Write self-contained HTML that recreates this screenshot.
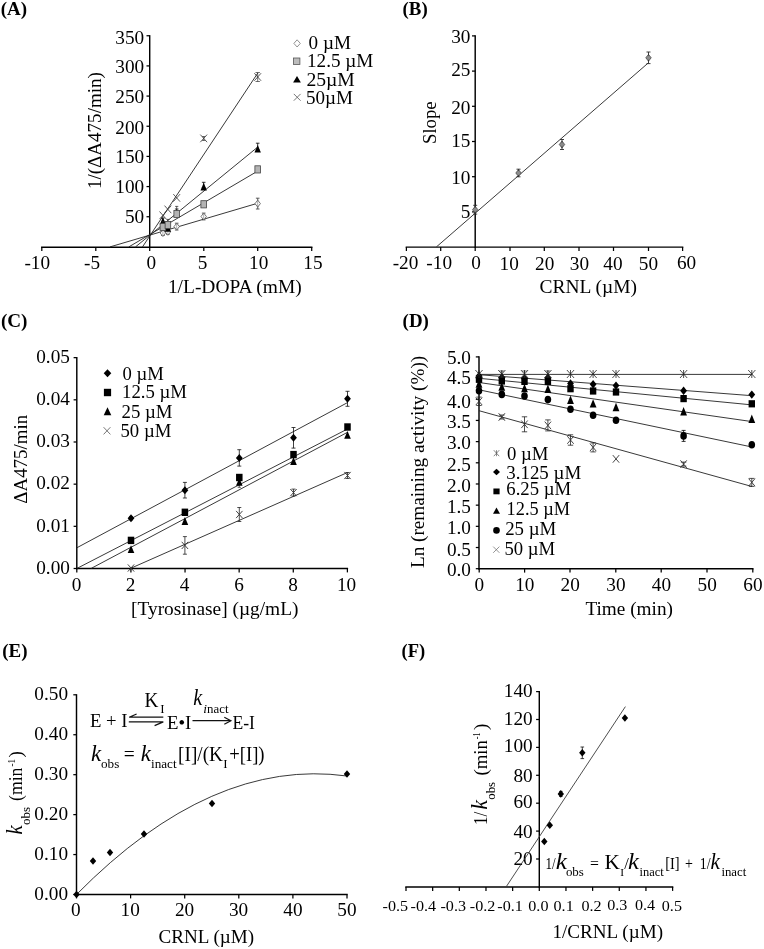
<!DOCTYPE html>
<html><head><meta charset="utf-8"><title>Figure</title>
<style>
html,body{margin:0;padding:0;background:#fff;overflow:hidden;}
svg{display:block;will-change:transform;}
text{font-family:"Liberation Serif",serif;fill:#000;}
</style></head>
<body>
<svg width="764" height="949" viewBox="0 0 764 949">
<rect x="0" y="0" width="764" height="949" fill="#fff"/>
<text x="0.80" y="14.70" font-size="19.5" font-weight="bold" textLength="26.30" lengthAdjust="spacingAndGlyphs">(A)</text>
<line x1="149.70" y1="35.15" x2="149.70" y2="247.62" stroke="#000" stroke-width="1.45"/>
<line x1="146.50" y1="216.74" x2="149.70" y2="216.74" stroke="#000" stroke-width="1.25"/>
<line x1="146.50" y1="186.57" x2="149.70" y2="186.57" stroke="#000" stroke-width="1.25"/>
<line x1="146.50" y1="156.41" x2="149.70" y2="156.41" stroke="#000" stroke-width="1.25"/>
<line x1="146.50" y1="126.24" x2="149.70" y2="126.24" stroke="#000" stroke-width="1.25"/>
<line x1="146.50" y1="96.08" x2="149.70" y2="96.08" stroke="#000" stroke-width="1.25"/>
<line x1="146.50" y1="65.91" x2="149.70" y2="65.91" stroke="#000" stroke-width="1.25"/>
<line x1="146.50" y1="35.75" x2="149.70" y2="35.75" stroke="#000" stroke-width="1.25"/>
<text x="124.96" y="222.70" font-size="18.5" textLength="19.24" lengthAdjust="spacingAndGlyphs">50</text>
<text x="115.34" y="192.70" font-size="18.5" textLength="28.86" lengthAdjust="spacingAndGlyphs">100</text>
<text x="115.34" y="162.90" font-size="18.5" textLength="28.86" lengthAdjust="spacingAndGlyphs">150</text>
<text x="115.34" y="133.50" font-size="18.5" textLength="28.86" lengthAdjust="spacingAndGlyphs">200</text>
<text x="115.34" y="103.40" font-size="18.5" textLength="28.86" lengthAdjust="spacingAndGlyphs">250</text>
<text x="115.34" y="73.10" font-size="18.5" textLength="28.86" lengthAdjust="spacingAndGlyphs">300</text>
<text x="115.34" y="44.10" font-size="18.5" textLength="28.86" lengthAdjust="spacingAndGlyphs">350</text>
<line x1="41.07" y1="247.15" x2="312.43" y2="247.15" stroke="#000" stroke-width="1.45"/>
<line x1="41.80" y1="247.15" x2="41.80" y2="251.05" stroke="#000" stroke-width="1.25"/>
<line x1="95.80" y1="247.15" x2="95.80" y2="251.05" stroke="#000" stroke-width="1.25"/>
<line x1="149.70" y1="247.15" x2="149.70" y2="251.05" stroke="#000" stroke-width="1.25"/>
<line x1="203.80" y1="247.15" x2="203.80" y2="251.05" stroke="#000" stroke-width="1.25"/>
<line x1="257.70" y1="247.15" x2="257.70" y2="251.05" stroke="#000" stroke-width="1.25"/>
<line x1="311.70" y1="247.15" x2="311.70" y2="251.05" stroke="#000" stroke-width="1.25"/>
<text x="24.48" y="269.20" font-size="18.5" textLength="25.65" lengthAdjust="spacingAndGlyphs">-10</text>
<text x="83.99" y="269.20" font-size="18.5" textLength="16.03" lengthAdjust="spacingAndGlyphs">-5</text>
<text x="146.49" y="269.20" font-size="18.5" textLength="9.62" lengthAdjust="spacingAndGlyphs">0</text>
<text x="197.89" y="269.00" font-size="18.5" textLength="9.62" lengthAdjust="spacingAndGlyphs">5</text>
<text x="249.08" y="269.00" font-size="18.5" textLength="19.24" lengthAdjust="spacingAndGlyphs">10</text>
<text x="303.28" y="268.50" font-size="18.5" textLength="19.24" lengthAdjust="spacingAndGlyphs">15</text>
<text x="167.90" y="292.70" font-size="18.5" textLength="133.81" lengthAdjust="spacingAndGlyphs">1/L-DOPA (mM)</text>
<text x="0" y="0" font-size="18.5" textLength="116.99" lengthAdjust="spacingAndGlyphs" transform="translate(100.60 189.10) rotate(-90)">1/(ΔA475/min)</text>
<line x1="110.00" y1="246.90" x2="257.80" y2="203.20" stroke="#222" stroke-width="0.9"/>
<line x1="128.80" y1="246.90" x2="257.80" y2="171.00" stroke="#222" stroke-width="0.9"/>
<line x1="135.50" y1="246.90" x2="257.80" y2="147.00" stroke="#222" stroke-width="0.9"/>
<line x1="142.50" y1="246.90" x2="257.80" y2="73.00" stroke="#222" stroke-width="0.9"/>
<line x1="162.90" y1="230.50" x2="162.90" y2="235.50" stroke="#333" stroke-width="0.8"/>
<line x1="161.10" y1="230.50" x2="164.70" y2="230.50" stroke="#333" stroke-width="0.8"/>
<line x1="161.10" y1="235.50" x2="164.70" y2="235.50" stroke="#333" stroke-width="0.8"/>
<polygon points="162.90,229.50 165.60,233.00 162.90,236.50 160.20,233.00" fill="#fff" stroke="#555" stroke-width="0.8"/>
<line x1="162.90" y1="230.50" x2="162.90" y2="235.50" stroke="#777" stroke-width="0.6"/>
<line x1="167.90" y1="229.30" x2="167.90" y2="234.30" stroke="#333" stroke-width="0.8"/>
<line x1="166.10" y1="229.30" x2="169.70" y2="229.30" stroke="#333" stroke-width="0.8"/>
<line x1="166.10" y1="234.30" x2="169.70" y2="234.30" stroke="#333" stroke-width="0.8"/>
<polygon points="167.90,228.30 170.60,231.80 167.90,235.30 165.20,231.80" fill="#fff" stroke="#555" stroke-width="0.8"/>
<line x1="167.90" y1="229.30" x2="167.90" y2="234.30" stroke="#777" stroke-width="0.6"/>
<line x1="176.70" y1="223.20" x2="176.70" y2="230.00" stroke="#333" stroke-width="0.8"/>
<line x1="174.90" y1="223.20" x2="178.50" y2="223.20" stroke="#333" stroke-width="0.8"/>
<line x1="174.90" y1="230.00" x2="178.50" y2="230.00" stroke="#333" stroke-width="0.8"/>
<polygon points="176.70,223.10 179.40,226.60 176.70,230.10 174.00,226.60" fill="#fff" stroke="#555" stroke-width="0.8"/>
<line x1="176.70" y1="223.20" x2="176.70" y2="230.00" stroke="#777" stroke-width="0.6"/>
<line x1="203.70" y1="213.10" x2="203.70" y2="219.90" stroke="#333" stroke-width="0.8"/>
<line x1="201.90" y1="213.10" x2="205.50" y2="213.10" stroke="#333" stroke-width="0.8"/>
<line x1="201.90" y1="219.90" x2="205.50" y2="219.90" stroke="#333" stroke-width="0.8"/>
<polygon points="203.70,213.00 206.40,216.50 203.70,220.00 201.00,216.50" fill="#fff" stroke="#555" stroke-width="0.8"/>
<line x1="203.70" y1="213.10" x2="203.70" y2="219.90" stroke="#777" stroke-width="0.6"/>
<line x1="257.70" y1="198.20" x2="257.70" y2="209.00" stroke="#333" stroke-width="0.8"/>
<line x1="255.90" y1="198.20" x2="259.50" y2="198.20" stroke="#333" stroke-width="0.8"/>
<line x1="255.90" y1="209.00" x2="259.50" y2="209.00" stroke="#333" stroke-width="0.8"/>
<polygon points="257.70,200.10 260.40,203.60 257.70,207.10 255.00,203.60" fill="#fff" stroke="#555" stroke-width="0.8"/>
<line x1="257.70" y1="198.20" x2="257.70" y2="209.00" stroke="#777" stroke-width="0.6"/>
<line x1="159.50" y1="211.50" x2="166.30" y2="219.10" stroke="#333" stroke-width="0.8"/>
<line x1="159.50" y1="219.10" x2="166.30" y2="211.50" stroke="#333" stroke-width="0.8"/>
<line x1="164.50" y1="205.60" x2="171.30" y2="213.20" stroke="#333" stroke-width="0.8"/>
<line x1="164.50" y1="213.20" x2="171.30" y2="205.60" stroke="#333" stroke-width="0.8"/>
<line x1="173.30" y1="194.10" x2="180.10" y2="201.70" stroke="#333" stroke-width="0.8"/>
<line x1="173.30" y1="201.70" x2="180.10" y2="194.10" stroke="#333" stroke-width="0.8"/>
<line x1="200.30" y1="134.60" x2="207.10" y2="142.20" stroke="#333" stroke-width="0.8"/>
<line x1="200.30" y1="142.20" x2="207.10" y2="134.60" stroke="#333" stroke-width="0.8"/>
<line x1="254.30" y1="73.20" x2="261.10" y2="80.80" stroke="#333" stroke-width="0.8"/>
<line x1="254.30" y1="80.80" x2="261.10" y2="73.20" stroke="#333" stroke-width="0.8"/>
<line x1="257.70" y1="72.50" x2="257.70" y2="81.50" stroke="#333" stroke-width="0.7"/>
<line x1="255.50" y1="72.50" x2="259.90" y2="72.50" stroke="#333" stroke-width="0.7"/>
<line x1="255.50" y1="81.50" x2="259.90" y2="81.50" stroke="#333" stroke-width="0.7"/>
<line x1="203.70" y1="136.50" x2="203.70" y2="140.50" stroke="#333" stroke-width="0.7"/>
<line x1="202.10" y1="136.50" x2="205.30" y2="136.50" stroke="#333" stroke-width="0.7"/>
<line x1="202.10" y1="140.50" x2="205.30" y2="140.50" stroke="#333" stroke-width="0.7"/>
<line x1="162.90" y1="218.00" x2="162.90" y2="222.00" stroke="#000" stroke-width="0.8"/>
<line x1="161.10" y1="218.00" x2="164.70" y2="218.00" stroke="#000" stroke-width="0.8"/>
<line x1="161.10" y1="222.00" x2="164.70" y2="222.00" stroke="#000" stroke-width="0.8"/>
<polygon points="162.90,217.20 166.10,224.80 159.70,224.80" fill="#000"/>
<line x1="167.90" y1="225.00" x2="167.90" y2="229.00" stroke="#000" stroke-width="0.8"/>
<line x1="166.10" y1="225.00" x2="169.70" y2="225.00" stroke="#000" stroke-width="0.8"/>
<line x1="166.10" y1="229.00" x2="169.70" y2="229.00" stroke="#000" stroke-width="0.8"/>
<polygon points="167.90,224.20 171.10,231.80 164.70,231.80" fill="#000"/>
<line x1="176.70" y1="209.00" x2="176.70" y2="214.00" stroke="#000" stroke-width="0.8"/>
<line x1="174.90" y1="209.00" x2="178.50" y2="209.00" stroke="#000" stroke-width="0.8"/>
<line x1="174.90" y1="214.00" x2="178.50" y2="214.00" stroke="#000" stroke-width="0.8"/>
<polygon points="176.70,209.20 179.90,216.80 173.50,216.80" fill="#000"/>
<line x1="203.70" y1="182.30" x2="203.70" y2="187.60" stroke="#000" stroke-width="0.8"/>
<line x1="201.90" y1="182.30" x2="205.50" y2="182.30" stroke="#000" stroke-width="0.8"/>
<line x1="201.90" y1="187.60" x2="205.50" y2="187.60" stroke="#000" stroke-width="0.8"/>
<polygon points="203.70,182.80 206.90,190.40 200.50,190.40" fill="#000"/>
<line x1="257.70" y1="143.20" x2="257.70" y2="149.80" stroke="#000" stroke-width="0.8"/>
<line x1="255.90" y1="143.20" x2="259.50" y2="143.20" stroke="#000" stroke-width="0.8"/>
<line x1="255.90" y1="149.80" x2="259.50" y2="149.80" stroke="#000" stroke-width="0.8"/>
<polygon points="257.70,145.00 260.90,152.60 254.50,152.60" fill="#000"/>
<line x1="162.90" y1="221.40" x2="162.90" y2="227.00" stroke="#222" stroke-width="0.7"/>
<line x1="161.30" y1="221.40" x2="164.50" y2="221.40" stroke="#222" stroke-width="0.7"/>
<line x1="161.30" y1="227.00" x2="164.50" y2="227.00" stroke="#222" stroke-width="0.7"/>
<rect x="160.10" y="223.40" width="5.60" height="7.20" fill="#b4b4b4" stroke="#444" stroke-width="0.8"/>
<line x1="167.90" y1="219.40" x2="167.90" y2="225.00" stroke="#222" stroke-width="0.7"/>
<line x1="166.30" y1="219.40" x2="169.50" y2="219.40" stroke="#222" stroke-width="0.7"/>
<line x1="166.30" y1="225.00" x2="169.50" y2="225.00" stroke="#222" stroke-width="0.7"/>
<rect x="165.10" y="221.40" width="5.60" height="7.20" fill="#b4b4b4" stroke="#444" stroke-width="0.8"/>
<line x1="176.70" y1="206.40" x2="176.70" y2="214.00" stroke="#222" stroke-width="0.7"/>
<line x1="175.10" y1="206.40" x2="178.30" y2="206.40" stroke="#222" stroke-width="0.7"/>
<line x1="175.10" y1="214.00" x2="178.30" y2="214.00" stroke="#222" stroke-width="0.7"/>
<rect x="173.90" y="210.40" width="5.60" height="7.20" fill="#b4b4b4" stroke="#444" stroke-width="0.8"/>
<rect x="200.90" y="200.70" width="5.60" height="7.20" fill="#b4b4b4" stroke="#444" stroke-width="0.8"/>
<rect x="254.90" y="165.80" width="5.60" height="7.20" fill="#b4b4b4" stroke="#444" stroke-width="0.8"/>
<polygon points="297.10,39.80 300.30,43.40 297.10,47.00 293.90,43.40" fill="#fff" stroke="#777" stroke-width="0.8"/>
<rect x="293.50" y="58.00" width="6.40" height="6.40" fill="#bcbcbc" stroke="#555" stroke-width="0.8"/>
<polygon points="297.00,75.90 300.90,82.50 293.10,82.50" fill="#000"/>
<line x1="293.80" y1="93.90" x2="300.60" y2="100.70" stroke="#555" stroke-width="0.8"/>
<line x1="293.80" y1="100.70" x2="300.60" y2="93.90" stroke="#555" stroke-width="0.8"/>
<text x="308.60" y="49.20" font-size="18.5" textLength="42.41" lengthAdjust="spacingAndGlyphs">0 µM</text>
<text x="307.00" y="66.90" font-size="18.5" textLength="66.41" lengthAdjust="spacingAndGlyphs">12.5 µM</text>
<text x="306.40" y="86.00" font-size="18.5" textLength="48.41" lengthAdjust="spacingAndGlyphs">25µM</text>
<text x="306.00" y="103.50" font-size="18.5" textLength="47.01" lengthAdjust="spacingAndGlyphs">50µM</text>
<text x="402.60" y="14.60" font-size="19.5" font-weight="bold" textLength="25.10" lengthAdjust="spacingAndGlyphs">(B)</text>
<line x1="475.20" y1="35.30" x2="475.20" y2="247.82" stroke="#000" stroke-width="1.45"/>
<line x1="472.00" y1="211.90" x2="475.20" y2="211.90" stroke="#000" stroke-width="1.25"/>
<line x1="472.00" y1="176.70" x2="475.20" y2="176.70" stroke="#000" stroke-width="1.25"/>
<line x1="472.00" y1="141.50" x2="475.20" y2="141.50" stroke="#000" stroke-width="1.25"/>
<line x1="472.00" y1="106.30" x2="475.20" y2="106.30" stroke="#000" stroke-width="1.25"/>
<line x1="472.00" y1="71.10" x2="475.20" y2="71.10" stroke="#000" stroke-width="1.25"/>
<line x1="472.00" y1="35.90" x2="475.20" y2="35.90" stroke="#000" stroke-width="1.25"/>
<text x="460.78" y="217.70" font-size="18.5" textLength="9.62" lengthAdjust="spacingAndGlyphs">5</text>
<text x="451.16" y="183.80" font-size="18.5" textLength="19.24" lengthAdjust="spacingAndGlyphs">10</text>
<text x="451.16" y="146.80" font-size="18.5" textLength="19.24" lengthAdjust="spacingAndGlyphs">15</text>
<text x="451.16" y="113.90" font-size="18.5" textLength="19.24" lengthAdjust="spacingAndGlyphs">20</text>
<text x="451.16" y="76.10" font-size="18.5" textLength="19.24" lengthAdjust="spacingAndGlyphs">25</text>
<text x="451.16" y="42.80" font-size="18.5" textLength="19.24" lengthAdjust="spacingAndGlyphs">30</text>
<line x1="405.67" y1="247.10" x2="683.33" y2="247.10" stroke="#000" stroke-width="1.45"/>
<line x1="406.40" y1="247.10" x2="406.40" y2="251.00" stroke="#000" stroke-width="1.25"/>
<line x1="440.70" y1="247.10" x2="440.70" y2="251.00" stroke="#000" stroke-width="1.25"/>
<line x1="475.20" y1="247.10" x2="475.20" y2="251.00" stroke="#000" stroke-width="1.25"/>
<line x1="510.00" y1="247.10" x2="510.00" y2="251.00" stroke="#000" stroke-width="1.25"/>
<line x1="544.30" y1="247.10" x2="544.30" y2="251.00" stroke="#000" stroke-width="1.25"/>
<line x1="579.00" y1="247.10" x2="579.00" y2="251.00" stroke="#000" stroke-width="1.25"/>
<line x1="613.50" y1="247.10" x2="613.50" y2="251.00" stroke="#000" stroke-width="1.25"/>
<line x1="648.50" y1="247.10" x2="648.50" y2="251.00" stroke="#000" stroke-width="1.25"/>
<line x1="682.60" y1="247.10" x2="682.60" y2="251.00" stroke="#000" stroke-width="1.25"/>
<text x="392.68" y="268.90" font-size="18.5" textLength="25.65" lengthAdjust="spacingAndGlyphs">-20</text>
<text x="426.38" y="268.90" font-size="18.5" textLength="25.65" lengthAdjust="spacingAndGlyphs">-10</text>
<text x="471.29" y="269.10" font-size="18.5" textLength="9.62" lengthAdjust="spacingAndGlyphs">0</text>
<text x="499.58" y="270.00" font-size="18.5" textLength="19.24" lengthAdjust="spacingAndGlyphs">10</text>
<text x="535.08" y="269.60" font-size="18.5" textLength="19.24" lengthAdjust="spacingAndGlyphs">20</text>
<text x="569.88" y="269.60" font-size="18.5" textLength="19.24" lengthAdjust="spacingAndGlyphs">30</text>
<text x="603.38" y="269.60" font-size="18.5" textLength="19.24" lengthAdjust="spacingAndGlyphs">40</text>
<text x="638.78" y="269.60" font-size="18.5" textLength="19.24" lengthAdjust="spacingAndGlyphs">50</text>
<text x="676.98" y="268.90" font-size="18.5" textLength="19.24" lengthAdjust="spacingAndGlyphs">60</text>
<text x="539.60" y="292.60" font-size="18.5" textLength="97.41" lengthAdjust="spacingAndGlyphs">CRNL (µM)</text>
<text x="0" y="0" font-size="18.5" textLength="42.50" lengthAdjust="spacingAndGlyphs" transform="translate(436.20 144.00) rotate(-90)">Slope</text>
<line x1="436.30" y1="247.00" x2="648.20" y2="63.00" stroke="#3a3a3a" stroke-width="1.0"/>
<polygon points="475.20,206.30 477.90,209.70 475.20,213.10 472.50,209.70" fill="#8c8c8c" stroke="#444" stroke-width="0.8"/>
<line x1="475.20" y1="205.30" x2="475.20" y2="214.10" stroke="#2a2a2a" stroke-width="0.9"/>
<line x1="473.20" y1="205.30" x2="477.20" y2="205.30" stroke="#2a2a2a" stroke-width="0.9"/>
<line x1="473.20" y1="214.10" x2="477.20" y2="214.10" stroke="#2a2a2a" stroke-width="0.9"/>
<polygon points="475.20,207.20 477.10,209.70 475.20,212.20 473.30,209.70" fill="#8c8c8c" stroke="none" stroke-width="0.8"/>
<polygon points="518.50,169.60 521.20,173.00 518.50,176.40 515.80,173.00" fill="#8c8c8c" stroke="#444" stroke-width="0.8"/>
<line x1="518.50" y1="169.20" x2="518.50" y2="176.80" stroke="#2a2a2a" stroke-width="0.9"/>
<line x1="516.50" y1="169.20" x2="520.50" y2="169.20" stroke="#2a2a2a" stroke-width="0.9"/>
<line x1="516.50" y1="176.80" x2="520.50" y2="176.80" stroke="#2a2a2a" stroke-width="0.9"/>
<polygon points="518.50,170.50 520.40,173.00 518.50,175.50 516.60,173.00" fill="#8c8c8c" stroke="none" stroke-width="0.8"/>
<polygon points="562.00,141.10 564.70,144.50 562.00,147.90 559.30,144.50" fill="#8c8c8c" stroke="#444" stroke-width="0.8"/>
<line x1="562.00" y1="139.50" x2="562.00" y2="149.50" stroke="#2a2a2a" stroke-width="0.9"/>
<line x1="560.00" y1="139.50" x2="564.00" y2="139.50" stroke="#2a2a2a" stroke-width="0.9"/>
<line x1="560.00" y1="149.50" x2="564.00" y2="149.50" stroke="#2a2a2a" stroke-width="0.9"/>
<polygon points="562.00,142.00 563.90,144.50 562.00,147.00 560.10,144.50" fill="#8c8c8c" stroke="none" stroke-width="0.8"/>
<polygon points="648.50,54.40 651.20,57.80 648.50,61.20 645.80,57.80" fill="#8c8c8c" stroke="#444" stroke-width="0.8"/>
<line x1="648.50" y1="52.00" x2="648.50" y2="63.60" stroke="#2a2a2a" stroke-width="0.9"/>
<line x1="646.50" y1="52.00" x2="650.50" y2="52.00" stroke="#2a2a2a" stroke-width="0.9"/>
<line x1="646.50" y1="63.60" x2="650.50" y2="63.60" stroke="#2a2a2a" stroke-width="0.9"/>
<polygon points="648.50,55.30 650.40,57.80 648.50,60.30 646.60,57.80" fill="#8c8c8c" stroke="none" stroke-width="0.8"/>
<text x="0.90" y="326.90" font-size="19.5" font-weight="bold" textLength="26.60" lengthAdjust="spacingAndGlyphs">(C)</text>
<line x1="76.80" y1="357.05" x2="76.80" y2="569.23" stroke="#000" stroke-width="1.45"/>
<line x1="73.60" y1="568.50" x2="76.80" y2="568.50" stroke="#000" stroke-width="1.25"/>
<line x1="73.60" y1="526.33" x2="76.80" y2="526.33" stroke="#000" stroke-width="1.25"/>
<line x1="73.60" y1="484.16" x2="76.80" y2="484.16" stroke="#000" stroke-width="1.25"/>
<line x1="73.60" y1="441.99" x2="76.80" y2="441.99" stroke="#000" stroke-width="1.25"/>
<line x1="73.60" y1="399.82" x2="76.80" y2="399.82" stroke="#000" stroke-width="1.25"/>
<line x1="73.60" y1="357.65" x2="76.80" y2="357.65" stroke="#000" stroke-width="1.25"/>
<text x="36.23" y="573.70" font-size="18.5" textLength="33.67" lengthAdjust="spacingAndGlyphs">0.00</text>
<text x="36.23" y="531.53" font-size="18.5" textLength="33.67" lengthAdjust="spacingAndGlyphs">0.01</text>
<text x="36.23" y="489.36" font-size="18.5" textLength="33.67" lengthAdjust="spacingAndGlyphs">0.02</text>
<text x="36.23" y="447.19" font-size="18.5" textLength="33.67" lengthAdjust="spacingAndGlyphs">0.03</text>
<text x="36.23" y="405.02" font-size="18.5" textLength="33.67" lengthAdjust="spacingAndGlyphs">0.04</text>
<text x="36.23" y="362.85" font-size="18.5" textLength="33.67" lengthAdjust="spacingAndGlyphs">0.05</text>
<line x1="76.08" y1="568.50" x2="348.12" y2="568.50" stroke="#000" stroke-width="1.45"/>
<line x1="76.80" y1="568.50" x2="76.80" y2="572.40" stroke="#000" stroke-width="1.25"/>
<line x1="130.92" y1="568.50" x2="130.92" y2="572.40" stroke="#000" stroke-width="1.25"/>
<line x1="185.04" y1="568.50" x2="185.04" y2="572.40" stroke="#000" stroke-width="1.25"/>
<line x1="239.16" y1="568.50" x2="239.16" y2="572.40" stroke="#000" stroke-width="1.25"/>
<line x1="293.28" y1="568.50" x2="293.28" y2="572.40" stroke="#000" stroke-width="1.25"/>
<line x1="347.40" y1="568.50" x2="347.40" y2="572.40" stroke="#000" stroke-width="1.25"/>
<text x="71.89" y="590.60" font-size="18.5" textLength="9.62" lengthAdjust="spacingAndGlyphs">0</text>
<text x="125.79" y="590.60" font-size="18.5" textLength="9.62" lengthAdjust="spacingAndGlyphs">2</text>
<text x="179.89" y="590.60" font-size="18.5" textLength="9.62" lengthAdjust="spacingAndGlyphs">4</text>
<text x="234.29" y="590.60" font-size="18.5" textLength="9.62" lengthAdjust="spacingAndGlyphs">6</text>
<text x="288.29" y="590.60" font-size="18.5" textLength="9.62" lengthAdjust="spacingAndGlyphs">8</text>
<text x="336.98" y="590.60" font-size="18.5" textLength="19.24" lengthAdjust="spacingAndGlyphs">10</text>
<text x="131.00" y="614.50" font-size="18.5" textLength="167.49" lengthAdjust="spacingAndGlyphs">[Tyrosinase] (µg/mL)</text>
<text x="0" y="0" font-size="18.5" textLength="88.99" lengthAdjust="spacingAndGlyphs" transform="translate(26.70 503.70) rotate(-90)">ΔA475/min</text>
<line x1="77.00" y1="547.70" x2="347.50" y2="402.60" stroke="#222" stroke-width="0.9"/>
<line x1="77.00" y1="568.40" x2="347.50" y2="429.00" stroke="#222" stroke-width="0.9"/>
<line x1="91.20" y1="568.40" x2="347.50" y2="432.30" stroke="#222" stroke-width="0.9"/>
<line x1="130.50" y1="568.40" x2="347.50" y2="472.50" stroke="#222" stroke-width="0.9"/>
<line x1="127.80" y1="564.40" x2="134.20" y2="571.60" stroke="#333" stroke-width="0.9"/>
<line x1="127.80" y1="571.60" x2="134.20" y2="564.40" stroke="#333" stroke-width="0.9"/>
<line x1="184.90" y1="536.60" x2="184.90" y2="554.20" stroke="#222" stroke-width="0.8"/>
<line x1="182.90" y1="536.60" x2="186.90" y2="536.60" stroke="#222" stroke-width="0.8"/>
<line x1="182.90" y1="554.20" x2="186.90" y2="554.20" stroke="#222" stroke-width="0.8"/>
<line x1="181.70" y1="541.80" x2="188.10" y2="549.00" stroke="#333" stroke-width="0.9"/>
<line x1="181.70" y1="549.00" x2="188.10" y2="541.80" stroke="#333" stroke-width="0.9"/>
<line x1="239.30" y1="507.50" x2="239.30" y2="521.50" stroke="#222" stroke-width="0.8"/>
<line x1="237.30" y1="507.50" x2="241.30" y2="507.50" stroke="#222" stroke-width="0.8"/>
<line x1="237.30" y1="521.50" x2="241.30" y2="521.50" stroke="#222" stroke-width="0.8"/>
<line x1="236.10" y1="510.90" x2="242.50" y2="518.10" stroke="#333" stroke-width="0.9"/>
<line x1="236.10" y1="518.10" x2="242.50" y2="510.90" stroke="#333" stroke-width="0.9"/>
<line x1="293.50" y1="489.10" x2="293.50" y2="496.10" stroke="#222" stroke-width="0.8"/>
<line x1="291.50" y1="489.10" x2="295.50" y2="489.10" stroke="#222" stroke-width="0.8"/>
<line x1="291.50" y1="496.10" x2="295.50" y2="496.10" stroke="#222" stroke-width="0.8"/>
<line x1="290.30" y1="489.00" x2="296.70" y2="496.20" stroke="#333" stroke-width="0.9"/>
<line x1="290.30" y1="496.20" x2="296.70" y2="489.00" stroke="#333" stroke-width="0.9"/>
<line x1="347.50" y1="472.50" x2="347.50" y2="478.50" stroke="#222" stroke-width="0.8"/>
<line x1="345.50" y1="472.50" x2="349.50" y2="472.50" stroke="#222" stroke-width="0.8"/>
<line x1="345.50" y1="478.50" x2="349.50" y2="478.50" stroke="#222" stroke-width="0.8"/>
<line x1="344.30" y1="471.90" x2="350.70" y2="479.10" stroke="#333" stroke-width="0.9"/>
<line x1="344.30" y1="479.10" x2="350.70" y2="471.90" stroke="#333" stroke-width="0.9"/>
<polygon points="131.00,545.30 134.30,553.10 127.70,553.10" fill="#000"/>
<polygon points="184.90,517.10 188.20,524.90 181.60,524.90" fill="#000"/>
<line x1="239.30" y1="477.30" x2="239.30" y2="487.30" stroke="#222" stroke-width="0.7"/>
<line x1="237.70" y1="477.30" x2="240.90" y2="477.30" stroke="#222" stroke-width="0.7"/>
<line x1="237.70" y1="487.30" x2="240.90" y2="487.30" stroke="#222" stroke-width="0.7"/>
<polygon points="239.30,477.90 242.60,485.70 236.00,485.70" fill="#000"/>
<polygon points="293.50,457.10 296.80,464.90 290.20,464.90" fill="#000"/>
<polygon points="347.50,430.90 350.80,438.70 344.20,438.70" fill="#000"/>
<rect x="127.75" y="536.70" width="6.50" height="7.40" fill="#000" stroke="none" stroke-width="0.8"/>
<rect x="181.65" y="508.60" width="6.50" height="7.40" fill="#000" stroke="none" stroke-width="0.8"/>
<rect x="236.05" y="473.80" width="6.50" height="7.40" fill="#000" stroke="none" stroke-width="0.8"/>
<rect x="290.25" y="450.90" width="6.50" height="7.40" fill="#000" stroke="none" stroke-width="0.8"/>
<rect x="344.25" y="423.30" width="6.50" height="7.40" fill="#000" stroke="none" stroke-width="0.8"/>
<line x1="131.00" y1="516.80" x2="131.00" y2="519.80" stroke="#111" stroke-width="0.8"/>
<line x1="129.00" y1="516.80" x2="133.00" y2="516.80" stroke="#111" stroke-width="0.8"/>
<line x1="129.00" y1="519.80" x2="133.00" y2="519.80" stroke="#111" stroke-width="0.8"/>
<polygon points="131.00,514.30 134.40,518.30 131.00,522.30 127.60,518.30" fill="#000" stroke="none" stroke-width="0.8"/>
<line x1="184.90" y1="482.40" x2="184.90" y2="498.00" stroke="#111" stroke-width="0.8"/>
<line x1="182.90" y1="482.40" x2="186.90" y2="482.40" stroke="#111" stroke-width="0.8"/>
<line x1="182.90" y1="498.00" x2="186.90" y2="498.00" stroke="#111" stroke-width="0.8"/>
<polygon points="184.90,486.20 188.30,490.20 184.90,494.20 181.50,490.20" fill="#000" stroke="none" stroke-width="0.8"/>
<line x1="239.30" y1="449.70" x2="239.30" y2="466.10" stroke="#111" stroke-width="0.8"/>
<line x1="237.30" y1="449.70" x2="241.30" y2="449.70" stroke="#111" stroke-width="0.8"/>
<line x1="237.30" y1="466.10" x2="241.30" y2="466.10" stroke="#111" stroke-width="0.8"/>
<polygon points="239.30,453.90 242.70,457.90 239.30,461.90 235.90,457.90" fill="#000" stroke="none" stroke-width="0.8"/>
<line x1="293.50" y1="427.50" x2="293.50" y2="448.10" stroke="#111" stroke-width="0.8"/>
<line x1="291.50" y1="427.50" x2="295.50" y2="427.50" stroke="#111" stroke-width="0.8"/>
<line x1="291.50" y1="448.10" x2="295.50" y2="448.10" stroke="#111" stroke-width="0.8"/>
<polygon points="293.50,433.80 296.90,437.80 293.50,441.80 290.10,437.80" fill="#000" stroke="none" stroke-width="0.8"/>
<line x1="347.50" y1="391.30" x2="347.50" y2="406.30" stroke="#111" stroke-width="0.8"/>
<line x1="345.50" y1="391.30" x2="349.50" y2="391.30" stroke="#111" stroke-width="0.8"/>
<line x1="345.50" y1="406.30" x2="349.50" y2="406.30" stroke="#111" stroke-width="0.8"/>
<polygon points="347.50,394.80 350.90,398.80 347.50,402.80 344.10,398.80" fill="#000" stroke="none" stroke-width="0.8"/>
<polygon points="107.50,369.30 111.30,373.30 107.50,377.30 103.70,373.30" fill="#000" stroke="none" stroke-width="0.8"/>
<rect x="103.90" y="388.80" width="7.20" height="7.40" fill="#000" stroke="none" stroke-width="0.8"/>
<polygon points="107.50,407.30 111.30,415.30 103.70,415.30" fill="#000"/>
<line x1="103.60" y1="427.20" x2="110.40" y2="434.40" stroke="#555" stroke-width="0.8"/>
<line x1="103.60" y1="434.40" x2="110.40" y2="427.20" stroke="#555" stroke-width="0.8"/>
<text x="122.50" y="380.00" font-size="18.5" textLength="41.31" lengthAdjust="spacingAndGlyphs">0 µM</text>
<text x="122.00" y="398.30" font-size="18.5" textLength="65.01" lengthAdjust="spacingAndGlyphs">12.5 µM</text>
<text x="121.50" y="418.00" font-size="18.5" textLength="51.01" lengthAdjust="spacingAndGlyphs">25 µM</text>
<text x="120.50" y="437.00" font-size="18.5" textLength="50.81" lengthAdjust="spacingAndGlyphs">50 µM</text>
<text x="402.60" y="326.90" font-size="19.5" font-weight="bold" textLength="26.30" lengthAdjust="spacingAndGlyphs">(D)</text>
<line x1="479.00" y1="356.30" x2="479.00" y2="569.43" stroke="#000" stroke-width="1.45"/>
<line x1="475.80" y1="568.70" x2="479.00" y2="568.70" stroke="#000" stroke-width="1.25"/>
<line x1="475.80" y1="547.52" x2="479.00" y2="547.52" stroke="#000" stroke-width="1.25"/>
<line x1="475.80" y1="526.34" x2="479.00" y2="526.34" stroke="#000" stroke-width="1.25"/>
<line x1="475.80" y1="505.16" x2="479.00" y2="505.16" stroke="#000" stroke-width="1.25"/>
<line x1="475.80" y1="483.98" x2="479.00" y2="483.98" stroke="#000" stroke-width="1.25"/>
<line x1="475.80" y1="462.80" x2="479.00" y2="462.80" stroke="#000" stroke-width="1.25"/>
<line x1="475.80" y1="441.62" x2="479.00" y2="441.62" stroke="#000" stroke-width="1.25"/>
<line x1="475.80" y1="420.44" x2="479.00" y2="420.44" stroke="#000" stroke-width="1.25"/>
<line x1="475.80" y1="399.26" x2="479.00" y2="399.26" stroke="#000" stroke-width="1.25"/>
<line x1="475.80" y1="378.08" x2="479.00" y2="378.08" stroke="#000" stroke-width="1.25"/>
<line x1="475.80" y1="356.90" x2="479.00" y2="356.90" stroke="#000" stroke-width="1.25"/>
<text x="446.95" y="576.40" font-size="18.5" textLength="24.05" lengthAdjust="spacingAndGlyphs">0.0</text>
<text x="446.95" y="555.50" font-size="18.5" textLength="24.05" lengthAdjust="spacingAndGlyphs">0.5</text>
<text x="446.95" y="534.40" font-size="18.5" textLength="24.05" lengthAdjust="spacingAndGlyphs">1.0</text>
<text x="446.95" y="513.30" font-size="18.5" textLength="24.05" lengthAdjust="spacingAndGlyphs">1.5</text>
<text x="446.95" y="491.60" font-size="18.5" textLength="24.05" lengthAdjust="spacingAndGlyphs">2.0</text>
<text x="446.95" y="470.70" font-size="18.5" textLength="24.05" lengthAdjust="spacingAndGlyphs">2.5</text>
<text x="446.95" y="449.40" font-size="18.5" textLength="24.05" lengthAdjust="spacingAndGlyphs">3.0</text>
<text x="446.95" y="427.90" font-size="18.5" textLength="24.05" lengthAdjust="spacingAndGlyphs">3.5</text>
<text x="446.95" y="407.70" font-size="18.5" textLength="24.05" lengthAdjust="spacingAndGlyphs">4.0</text>
<text x="446.95" y="383.60" font-size="18.5" textLength="24.05" lengthAdjust="spacingAndGlyphs">4.5</text>
<text x="446.95" y="363.70" font-size="18.5" textLength="24.05" lengthAdjust="spacingAndGlyphs">5.0</text>
<line x1="478.27" y1="568.70" x2="753.52" y2="568.70" stroke="#000" stroke-width="1.45"/>
<line x1="479.20" y1="568.70" x2="479.20" y2="572.60" stroke="#000" stroke-width="1.25"/>
<line x1="524.60" y1="568.70" x2="524.60" y2="572.60" stroke="#000" stroke-width="1.25"/>
<line x1="570.00" y1="568.70" x2="570.00" y2="572.60" stroke="#000" stroke-width="1.25"/>
<line x1="615.80" y1="568.70" x2="615.80" y2="572.60" stroke="#000" stroke-width="1.25"/>
<line x1="661.20" y1="568.70" x2="661.20" y2="572.60" stroke="#000" stroke-width="1.25"/>
<line x1="707.00" y1="568.70" x2="707.00" y2="572.60" stroke="#000" stroke-width="1.25"/>
<line x1="752.80" y1="568.70" x2="752.80" y2="572.60" stroke="#000" stroke-width="1.25"/>
<text x="474.59" y="591.40" font-size="18.5" textLength="9.62" lengthAdjust="spacingAndGlyphs">0</text>
<text x="515.18" y="591.40" font-size="18.5" textLength="19.24" lengthAdjust="spacingAndGlyphs">10</text>
<text x="560.58" y="591.40" font-size="18.5" textLength="19.24" lengthAdjust="spacingAndGlyphs">20</text>
<text x="606.38" y="591.40" font-size="18.5" textLength="19.24" lengthAdjust="spacingAndGlyphs">30</text>
<text x="651.78" y="591.40" font-size="18.5" textLength="19.24" lengthAdjust="spacingAndGlyphs">40</text>
<text x="697.58" y="591.40" font-size="18.5" textLength="19.24" lengthAdjust="spacingAndGlyphs">50</text>
<text x="743.38" y="591.40" font-size="18.5" textLength="19.24" lengthAdjust="spacingAndGlyphs">60</text>
<text x="585.40" y="614.70" font-size="18.5" textLength="87.60" lengthAdjust="spacingAndGlyphs">Time (min)</text>
<text x="0" y="0" font-size="18.5" textLength="212.20" lengthAdjust="spacingAndGlyphs" transform="translate(423.50 568.00) rotate(-90)">Ln (remaining activity (%))</text>
<line x1="479.00" y1="374.40" x2="752.00" y2="374.40" stroke="#222" stroke-width="0.9"/>
<line x1="479.00" y1="374.70" x2="752.00" y2="395.70" stroke="#222" stroke-width="0.9"/>
<line x1="479.00" y1="378.30" x2="752.00" y2="404.90" stroke="#222" stroke-width="0.9"/>
<line x1="479.00" y1="382.50" x2="752.00" y2="421.60" stroke="#222" stroke-width="0.9"/>
<line x1="479.00" y1="389.80" x2="752.00" y2="447.00" stroke="#222" stroke-width="0.9"/>
<line x1="479.00" y1="410.70" x2="752.00" y2="486.50" stroke="#222" stroke-width="0.9"/>
<line x1="479.00" y1="397.10" x2="479.00" y2="405.50" stroke="#222" stroke-width="0.8"/>
<line x1="476.30" y1="397.10" x2="481.70" y2="397.10" stroke="#222" stroke-width="0.8"/>
<line x1="476.30" y1="405.50" x2="481.70" y2="405.50" stroke="#222" stroke-width="0.8"/>
<line x1="475.80" y1="397.50" x2="482.20" y2="405.10" stroke="#333" stroke-width="0.9"/>
<line x1="475.80" y1="405.10" x2="482.20" y2="397.50" stroke="#333" stroke-width="0.9"/>
<line x1="501.80" y1="415.00" x2="501.80" y2="419.00" stroke="#222" stroke-width="0.8"/>
<line x1="499.10" y1="415.00" x2="504.50" y2="415.00" stroke="#222" stroke-width="0.8"/>
<line x1="499.10" y1="419.00" x2="504.50" y2="419.00" stroke="#222" stroke-width="0.8"/>
<line x1="498.60" y1="413.20" x2="505.00" y2="420.80" stroke="#333" stroke-width="0.9"/>
<line x1="498.60" y1="420.80" x2="505.00" y2="413.20" stroke="#333" stroke-width="0.9"/>
<line x1="524.50" y1="416.80" x2="524.50" y2="431.80" stroke="#222" stroke-width="0.8"/>
<line x1="521.80" y1="416.80" x2="527.20" y2="416.80" stroke="#222" stroke-width="0.8"/>
<line x1="521.80" y1="431.80" x2="527.20" y2="431.80" stroke="#222" stroke-width="0.8"/>
<line x1="521.30" y1="420.50" x2="527.70" y2="428.10" stroke="#333" stroke-width="0.9"/>
<line x1="521.30" y1="428.10" x2="527.70" y2="420.50" stroke="#333" stroke-width="0.9"/>
<line x1="547.90" y1="419.90" x2="547.90" y2="430.90" stroke="#222" stroke-width="0.8"/>
<line x1="545.20" y1="419.90" x2="550.60" y2="419.90" stroke="#222" stroke-width="0.8"/>
<line x1="545.20" y1="430.90" x2="550.60" y2="430.90" stroke="#222" stroke-width="0.8"/>
<line x1="544.70" y1="421.60" x2="551.10" y2="429.20" stroke="#333" stroke-width="0.9"/>
<line x1="544.70" y1="429.20" x2="551.10" y2="421.60" stroke="#333" stroke-width="0.9"/>
<line x1="570.50" y1="434.80" x2="570.50" y2="445.20" stroke="#222" stroke-width="0.8"/>
<line x1="567.80" y1="434.80" x2="573.20" y2="434.80" stroke="#222" stroke-width="0.8"/>
<line x1="567.80" y1="445.20" x2="573.20" y2="445.20" stroke="#222" stroke-width="0.8"/>
<line x1="567.30" y1="436.20" x2="573.70" y2="443.80" stroke="#333" stroke-width="0.9"/>
<line x1="567.30" y1="443.80" x2="573.70" y2="436.20" stroke="#333" stroke-width="0.9"/>
<line x1="593.10" y1="442.90" x2="593.10" y2="451.90" stroke="#222" stroke-width="0.8"/>
<line x1="590.40" y1="442.90" x2="595.80" y2="442.90" stroke="#222" stroke-width="0.8"/>
<line x1="590.40" y1="451.90" x2="595.80" y2="451.90" stroke="#222" stroke-width="0.8"/>
<line x1="589.90" y1="443.60" x2="596.30" y2="451.20" stroke="#333" stroke-width="0.9"/>
<line x1="589.90" y1="451.20" x2="596.30" y2="443.60" stroke="#333" stroke-width="0.9"/>
<line x1="612.80" y1="455.10" x2="619.20" y2="462.70" stroke="#333" stroke-width="0.9"/>
<line x1="612.80" y1="462.70" x2="619.20" y2="455.10" stroke="#333" stroke-width="0.9"/>
<line x1="683.60" y1="462.10" x2="683.60" y2="466.10" stroke="#222" stroke-width="0.8"/>
<line x1="680.90" y1="462.10" x2="686.30" y2="462.10" stroke="#222" stroke-width="0.8"/>
<line x1="680.90" y1="466.10" x2="686.30" y2="466.10" stroke="#222" stroke-width="0.8"/>
<line x1="680.40" y1="460.30" x2="686.80" y2="467.90" stroke="#333" stroke-width="0.9"/>
<line x1="680.40" y1="467.90" x2="686.80" y2="460.30" stroke="#333" stroke-width="0.9"/>
<line x1="751.80" y1="478.40" x2="751.80" y2="486.40" stroke="#222" stroke-width="0.8"/>
<line x1="749.10" y1="478.40" x2="754.50" y2="478.40" stroke="#222" stroke-width="0.8"/>
<line x1="749.10" y1="486.40" x2="754.50" y2="486.40" stroke="#222" stroke-width="0.8"/>
<line x1="748.60" y1="478.60" x2="755.00" y2="486.20" stroke="#333" stroke-width="0.9"/>
<line x1="748.60" y1="486.20" x2="755.00" y2="478.60" stroke="#333" stroke-width="0.9"/>
<ellipse cx="479.00" cy="390.80" rx="3.3" ry="3.8" fill="#000"/>
<ellipse cx="501.80" cy="394.40" rx="3.3" ry="3.8" fill="#000"/>
<ellipse cx="524.50" cy="396.00" rx="3.3" ry="3.8" fill="#000"/>
<ellipse cx="547.90" cy="399.60" rx="3.3" ry="3.8" fill="#000"/>
<ellipse cx="570.50" cy="409.30" rx="3.3" ry="3.8" fill="#000"/>
<ellipse cx="593.10" cy="415.30" rx="3.3" ry="3.8" fill="#000"/>
<ellipse cx="616.00" cy="420.20" rx="3.3" ry="3.8" fill="#000"/>
<line x1="683.60" y1="430.40" x2="683.60" y2="441.40" stroke="#000" stroke-width="0.8"/>
<line x1="681.60" y1="430.40" x2="685.60" y2="430.40" stroke="#000" stroke-width="0.8"/>
<line x1="681.60" y1="441.40" x2="685.60" y2="441.40" stroke="#000" stroke-width="0.8"/>
<ellipse cx="683.60" cy="435.90" rx="3.3" ry="3.8" fill="#000"/>
<ellipse cx="751.80" cy="444.70" rx="3.3" ry="3.8" fill="#000"/>
<polygon points="479.00,379.30 482.40,387.70 475.60,387.70" fill="#000"/>
<polygon points="501.80,382.40 505.20,390.80 498.40,390.80" fill="#000"/>
<polygon points="524.50,383.80 527.90,392.20 521.10,392.20" fill="#000"/>
<polygon points="547.90,384.50 551.30,392.90 544.50,392.90" fill="#000"/>
<polygon points="570.50,395.60 573.90,404.00 567.10,404.00" fill="#000"/>
<polygon points="593.10,399.20 596.50,407.60 589.70,407.60" fill="#000"/>
<polygon points="616.00,402.80 619.40,411.20 612.60,411.20" fill="#000"/>
<polygon points="683.60,407.00 687.00,415.40 680.20,415.40" fill="#000"/>
<polygon points="751.80,414.50 755.20,422.90 748.40,422.90" fill="#000"/>
<rect x="475.80" y="375.70" width="6.40" height="7.20" fill="#000" stroke="none" stroke-width="0.8"/>
<rect x="498.60" y="377.40" width="6.40" height="7.20" fill="#000" stroke="none" stroke-width="0.8"/>
<rect x="521.30" y="377.80" width="6.40" height="7.20" fill="#000" stroke="none" stroke-width="0.8"/>
<rect x="544.70" y="377.80" width="6.40" height="7.20" fill="#000" stroke="none" stroke-width="0.8"/>
<rect x="567.30" y="385.10" width="6.40" height="7.20" fill="#000" stroke="none" stroke-width="0.8"/>
<rect x="589.90" y="387.40" width="6.40" height="7.20" fill="#000" stroke="none" stroke-width="0.8"/>
<rect x="612.80" y="388.40" width="6.40" height="7.20" fill="#000" stroke="none" stroke-width="0.8"/>
<rect x="680.40" y="395.00" width="6.40" height="7.20" fill="#000" stroke="none" stroke-width="0.8"/>
<rect x="748.60" y="400.20" width="6.40" height="7.20" fill="#000" stroke="none" stroke-width="0.8"/>
<polygon points="479.00,371.80 482.40,376.00 479.00,380.20 475.60,376.00" fill="#000" stroke="none" stroke-width="0.8"/>
<polygon points="501.80,373.30 505.20,377.50 501.80,381.70 498.40,377.50" fill="#000" stroke="none" stroke-width="0.8"/>
<polygon points="524.50,374.30 527.90,378.50 524.50,382.70 521.10,378.50" fill="#000" stroke="none" stroke-width="0.8"/>
<polygon points="547.90,373.80 551.30,378.00 547.90,382.20 544.50,378.00" fill="#000" stroke="none" stroke-width="0.8"/>
<polygon points="570.50,379.30 573.90,383.50 570.50,387.70 567.10,383.50" fill="#000" stroke="none" stroke-width="0.8"/>
<polygon points="593.10,380.10 596.50,384.30 593.10,388.50 589.70,384.30" fill="#000" stroke="none" stroke-width="0.8"/>
<polygon points="616.00,381.40 619.40,385.60 616.00,389.80 612.60,385.60" fill="#000" stroke="none" stroke-width="0.8"/>
<polygon points="683.60,386.60 687.00,390.80 683.60,395.00 680.20,390.80" fill="#000" stroke="none" stroke-width="0.8"/>
<polygon points="751.80,390.40 755.20,394.60 751.80,398.80 748.40,394.60" fill="#000" stroke="none" stroke-width="0.8"/>
<line x1="475.40" y1="370.00" x2="482.60" y2="378.00" stroke="#222" stroke-width="0.8"/>
<line x1="475.40" y1="378.00" x2="482.60" y2="370.00" stroke="#222" stroke-width="0.8"/>
<line x1="479.00" y1="370.00" x2="479.00" y2="378.00" stroke="#222" stroke-width="0.8"/>
<line x1="501.80" y1="371.00" x2="501.80" y2="377.00" stroke="#333" stroke-width="0.7"/>
<line x1="499.40" y1="371.00" x2="504.20" y2="371.00" stroke="#333" stroke-width="0.7"/>
<line x1="499.40" y1="377.00" x2="504.20" y2="377.00" stroke="#333" stroke-width="0.7"/>
<line x1="498.20" y1="370.00" x2="505.40" y2="378.00" stroke="#222" stroke-width="0.8"/>
<line x1="498.20" y1="378.00" x2="505.40" y2="370.00" stroke="#222" stroke-width="0.8"/>
<line x1="501.80" y1="370.00" x2="501.80" y2="378.00" stroke="#222" stroke-width="0.8"/>
<line x1="524.50" y1="371.00" x2="524.50" y2="377.00" stroke="#333" stroke-width="0.7"/>
<line x1="522.10" y1="371.00" x2="526.90" y2="371.00" stroke="#333" stroke-width="0.7"/>
<line x1="522.10" y1="377.00" x2="526.90" y2="377.00" stroke="#333" stroke-width="0.7"/>
<line x1="520.90" y1="370.00" x2="528.10" y2="378.00" stroke="#222" stroke-width="0.8"/>
<line x1="520.90" y1="378.00" x2="528.10" y2="370.00" stroke="#222" stroke-width="0.8"/>
<line x1="524.50" y1="370.00" x2="524.50" y2="378.00" stroke="#222" stroke-width="0.8"/>
<line x1="547.90" y1="371.00" x2="547.90" y2="377.00" stroke="#333" stroke-width="0.7"/>
<line x1="545.50" y1="371.00" x2="550.30" y2="371.00" stroke="#333" stroke-width="0.7"/>
<line x1="545.50" y1="377.00" x2="550.30" y2="377.00" stroke="#333" stroke-width="0.7"/>
<line x1="544.30" y1="370.00" x2="551.50" y2="378.00" stroke="#222" stroke-width="0.8"/>
<line x1="544.30" y1="378.00" x2="551.50" y2="370.00" stroke="#222" stroke-width="0.8"/>
<line x1="547.90" y1="370.00" x2="547.90" y2="378.00" stroke="#222" stroke-width="0.8"/>
<line x1="566.90" y1="370.00" x2="574.10" y2="378.00" stroke="#222" stroke-width="0.8"/>
<line x1="566.90" y1="378.00" x2="574.10" y2="370.00" stroke="#222" stroke-width="0.8"/>
<line x1="570.50" y1="370.00" x2="570.50" y2="378.00" stroke="#222" stroke-width="0.8"/>
<line x1="589.50" y1="370.00" x2="596.70" y2="378.00" stroke="#222" stroke-width="0.8"/>
<line x1="589.50" y1="378.00" x2="596.70" y2="370.00" stroke="#222" stroke-width="0.8"/>
<line x1="593.10" y1="370.00" x2="593.10" y2="378.00" stroke="#222" stroke-width="0.8"/>
<line x1="612.40" y1="370.00" x2="619.60" y2="378.00" stroke="#222" stroke-width="0.8"/>
<line x1="612.40" y1="378.00" x2="619.60" y2="370.00" stroke="#222" stroke-width="0.8"/>
<line x1="616.00" y1="370.00" x2="616.00" y2="378.00" stroke="#222" stroke-width="0.8"/>
<line x1="680.00" y1="370.00" x2="687.20" y2="378.00" stroke="#222" stroke-width="0.8"/>
<line x1="680.00" y1="378.00" x2="687.20" y2="370.00" stroke="#222" stroke-width="0.8"/>
<line x1="683.60" y1="370.00" x2="683.60" y2="378.00" stroke="#222" stroke-width="0.8"/>
<line x1="748.20" y1="370.00" x2="755.40" y2="378.00" stroke="#222" stroke-width="0.8"/>
<line x1="748.20" y1="378.00" x2="755.40" y2="370.00" stroke="#222" stroke-width="0.8"/>
<line x1="751.80" y1="370.00" x2="751.80" y2="378.00" stroke="#222" stroke-width="0.8"/>
<line x1="493.80" y1="450.20" x2="499.20" y2="456.20" stroke="#555" stroke-width="0.7"/>
<line x1="493.80" y1="456.20" x2="499.20" y2="450.20" stroke="#555" stroke-width="0.7"/>
<line x1="496.50" y1="450.20" x2="496.50" y2="456.20" stroke="#555" stroke-width="0.7"/>
<polygon points="496.50,468.80 500.00,472.00 496.50,475.20 493.00,472.00" fill="#000" stroke="none" stroke-width="0.8"/>
<rect x="493.40" y="488.50" width="6.20" height="5.80" fill="#000" stroke="none" stroke-width="0.8"/>
<polygon points="496.50,507.50 500.00,513.70 493.00,513.70" fill="#000"/>
<ellipse cx="496.50" cy="530.40" rx="3.3" ry="3.3" fill="#000"/>
<line x1="493.20" y1="546.60" x2="499.40" y2="552.80" stroke="#666" stroke-width="0.7"/>
<line x1="493.20" y1="552.80" x2="499.40" y2="546.60" stroke="#666" stroke-width="0.7"/>
<text x="506.90" y="460.20" font-size="18.5" textLength="41.51" lengthAdjust="spacingAndGlyphs">0 µM</text>
<text x="506.30" y="478.60" font-size="18.5" textLength="74.91" lengthAdjust="spacingAndGlyphs">3.125 µM</text>
<text x="506.30" y="495.10" font-size="18.5" textLength="64.81" lengthAdjust="spacingAndGlyphs">6.25 µM</text>
<text x="506.60" y="514.90" font-size="18.5" textLength="63.41" lengthAdjust="spacingAndGlyphs">12.5 µM</text>
<text x="505.20" y="535.00" font-size="18.5" textLength="51.11" lengthAdjust="spacingAndGlyphs">25 µM</text>
<text x="504.40" y="554.50" font-size="18.5" textLength="50.71" lengthAdjust="spacingAndGlyphs">50 µM</text>
<text x="2.20" y="657.40" font-size="19.5" font-weight="bold" textLength="25.30" lengthAdjust="spacingAndGlyphs">(E)</text>
<line x1="76.50" y1="694.20" x2="76.50" y2="895.23" stroke="#000" stroke-width="1.45"/>
<line x1="73.30" y1="894.50" x2="76.50" y2="894.50" stroke="#000" stroke-width="1.25"/>
<line x1="73.30" y1="854.56" x2="76.50" y2="854.56" stroke="#000" stroke-width="1.25"/>
<line x1="73.30" y1="814.62" x2="76.50" y2="814.62" stroke="#000" stroke-width="1.25"/>
<line x1="73.30" y1="774.68" x2="76.50" y2="774.68" stroke="#000" stroke-width="1.25"/>
<line x1="73.30" y1="734.74" x2="76.50" y2="734.74" stroke="#000" stroke-width="1.25"/>
<line x1="73.30" y1="694.80" x2="76.50" y2="694.80" stroke="#000" stroke-width="1.25"/>
<text x="34.33" y="900.00" font-size="18.5" textLength="33.67" lengthAdjust="spacingAndGlyphs">0.00</text>
<text x="34.33" y="860.06" font-size="18.5" textLength="33.67" lengthAdjust="spacingAndGlyphs">0.10</text>
<text x="34.33" y="820.12" font-size="18.5" textLength="33.67" lengthAdjust="spacingAndGlyphs">0.20</text>
<text x="34.33" y="780.18" font-size="18.5" textLength="33.67" lengthAdjust="spacingAndGlyphs">0.30</text>
<text x="34.33" y="740.24" font-size="18.5" textLength="33.67" lengthAdjust="spacingAndGlyphs">0.40</text>
<text x="34.33" y="700.30" font-size="18.5" textLength="33.67" lengthAdjust="spacingAndGlyphs">0.50</text>
<line x1="75.78" y1="894.50" x2="347.73" y2="894.50" stroke="#000" stroke-width="1.45"/>
<line x1="76.50" y1="894.50" x2="76.50" y2="898.40" stroke="#000" stroke-width="1.25"/>
<line x1="130.60" y1="894.50" x2="130.60" y2="898.40" stroke="#000" stroke-width="1.25"/>
<line x1="184.70" y1="894.50" x2="184.70" y2="898.40" stroke="#000" stroke-width="1.25"/>
<line x1="238.80" y1="894.50" x2="238.80" y2="898.40" stroke="#000" stroke-width="1.25"/>
<line x1="292.90" y1="894.50" x2="292.90" y2="898.40" stroke="#000" stroke-width="1.25"/>
<line x1="347.00" y1="894.50" x2="347.00" y2="898.40" stroke="#000" stroke-width="1.25"/>
<text x="71.09" y="916.40" font-size="18.5" textLength="9.62" lengthAdjust="spacingAndGlyphs">0</text>
<text x="120.58" y="916.40" font-size="18.5" textLength="19.24" lengthAdjust="spacingAndGlyphs">10</text>
<text x="174.98" y="916.40" font-size="18.5" textLength="19.24" lengthAdjust="spacingAndGlyphs">20</text>
<text x="228.98" y="916.40" font-size="18.5" textLength="19.24" lengthAdjust="spacingAndGlyphs">30</text>
<text x="283.38" y="916.40" font-size="18.5" textLength="19.24" lengthAdjust="spacingAndGlyphs">40</text>
<text x="337.38" y="916.40" font-size="18.5" textLength="19.24" lengthAdjust="spacingAndGlyphs">50</text>
<text x="158.50" y="942.50" font-size="18.5" textLength="95.51" lengthAdjust="spacingAndGlyphs">CRNL (µM)</text>
<path d="M76.5 894.5 Q211.8 757.4 347.0 776.0" fill="none" stroke="#222" stroke-width="0.9"/>
<polygon points="76.50,890.70 79.70,894.50 76.50,898.30 73.30,894.50" fill="#000" stroke="none" stroke-width="0.8"/>
<polygon points="93.00,857.20 96.20,861.00 93.00,864.80 89.80,861.00" fill="#000" stroke="none" stroke-width="0.8"/>
<polygon points="110.00,848.70 113.20,852.50 110.00,856.30 106.80,852.50" fill="#000" stroke="none" stroke-width="0.8"/>
<polygon points="144.00,830.20 147.20,834.00 144.00,837.80 140.80,834.00" fill="#000" stroke="none" stroke-width="0.8"/>
<polygon points="212.00,799.70 215.20,803.50 212.00,807.30 208.80,803.50" fill="#000" stroke="none" stroke-width="0.8"/>
<polygon points="347.00,770.20 350.20,774.00 347.00,777.80 343.80,774.00" fill="#000" stroke="none" stroke-width="0.8"/>
<text x="0" y="0" font-size="23" font-style="italic" textLength="9.19" lengthAdjust="spacingAndGlyphs" transform="translate(21.50 834.50) rotate(-90)">k</text>
<text x="0" y="0" font-size="13" textLength="18.00" lengthAdjust="spacingAndGlyphs" transform="translate(29.50 825.00) rotate(-90)">obs</text>
<text x="0" y="0" font-size="18.5" textLength="33.49" lengthAdjust="spacingAndGlyphs" transform="translate(21.80 801.00) rotate(-90)">(min</text>
<text x="0" y="0" font-size="11" textLength="7.50" lengthAdjust="spacingAndGlyphs" transform="translate(15.00 766.50) rotate(-90)">-1</text>
<text x="0" y="0" font-size="18.5" textLength="6.41" lengthAdjust="spacingAndGlyphs" transform="translate(21.80 757.50) rotate(-90)">)</text>
<text x="90.00" y="726.80" font-size="19" textLength="37.60" lengthAdjust="spacingAndGlyphs">E + I</text>
<path d="M163.3 717.2 L129.2 717.2 L136.6 714.0" fill="none" stroke="#111" stroke-width="1.25" stroke-linejoin="miter"/>
<path d="M128.8 721.9 L163.3 721.9 L154.6 725.6" fill="none" stroke="#111" stroke-width="1.25" stroke-linejoin="miter"/>
<text x="144.50" y="706.60" font-size="22" textLength="13.90" lengthAdjust="spacingAndGlyphs">K</text>
<text x="160.30" y="713.30" font-size="12.5" textLength="4.33" lengthAdjust="spacingAndGlyphs">I</text>
<text x="167.00" y="728.60" font-size="19" textLength="24.30" lengthAdjust="spacingAndGlyphs">E•I</text>
<line x1="192.50" y1="720.70" x2="230.30" y2="720.70" stroke="#111" stroke-width="1.2"/>
<path d="M224.3 717.2 L230.9 720.7 L224.3 724.2" fill="none" stroke="#111" stroke-width="1.2"/>
<text x="232.40" y="728.60" font-size="19" textLength="22.50" lengthAdjust="spacingAndGlyphs">E-I</text>
<text x="193.30" y="704.70" font-size="24" font-style="italic" textLength="8.99" lengthAdjust="spacingAndGlyphs">k</text>
<text x="203.30" y="712.50" font-size="13" font-style="italic" textLength="3.76" lengthAdjust="spacingAndGlyphs">i</text>
<text x="207.00" y="712.50" font-size="13" textLength="21.49" lengthAdjust="spacingAndGlyphs">nact</text>
<text x="91.00" y="761.00" font-size="23.5" font-style="italic" textLength="10.15" lengthAdjust="spacingAndGlyphs">k</text>
<text x="101.00" y="768.10" font-size="13.5" textLength="18.30" lengthAdjust="spacingAndGlyphs">obs</text>
<text x="123.80" y="761.00" font-size="20" textLength="11.00" lengthAdjust="spacingAndGlyphs">=</text>
<text x="140.70" y="761.00" font-size="23.5" font-style="italic" textLength="10.15" lengthAdjust="spacingAndGlyphs">k</text>
<text x="151.00" y="768.10" font-size="13.5" textLength="25.60" lengthAdjust="spacingAndGlyphs">inact</text>
<text x="178.10" y="760.90" font-size="21.5" textLength="44.90" lengthAdjust="spacingAndGlyphs">[I]/(K</text>
<text x="223.30" y="768.20" font-size="12.5" textLength="4.33" lengthAdjust="spacingAndGlyphs">I</text>
<text x="229.20" y="760.90" font-size="21.5" textLength="35.40" lengthAdjust="spacingAndGlyphs">+[I])</text>
<text x="401.60" y="656.70" font-size="19.5" font-weight="bold" textLength="23.70" lengthAdjust="spacingAndGlyphs">(F)</text>
<line x1="539.30" y1="691.00" x2="539.30" y2="887.62" stroke="#000" stroke-width="1.45"/>
<line x1="536.10" y1="859.00" x2="539.30" y2="859.00" stroke="#000" stroke-width="1.25"/>
<line x1="536.10" y1="831.10" x2="539.30" y2="831.10" stroke="#000" stroke-width="1.25"/>
<line x1="536.10" y1="803.20" x2="539.30" y2="803.20" stroke="#000" stroke-width="1.25"/>
<line x1="536.10" y1="775.30" x2="539.30" y2="775.30" stroke="#000" stroke-width="1.25"/>
<line x1="536.10" y1="747.40" x2="539.30" y2="747.40" stroke="#000" stroke-width="1.25"/>
<line x1="536.10" y1="719.50" x2="539.30" y2="719.50" stroke="#000" stroke-width="1.25"/>
<line x1="536.10" y1="691.60" x2="539.30" y2="691.60" stroke="#000" stroke-width="1.25"/>
<text x="513.46" y="864.70" font-size="18.5" textLength="19.24" lengthAdjust="spacingAndGlyphs">20</text>
<text x="513.46" y="837.90" font-size="18.5" textLength="19.24" lengthAdjust="spacingAndGlyphs">40</text>
<text x="513.46" y="808.40" font-size="18.5" textLength="19.24" lengthAdjust="spacingAndGlyphs">60</text>
<text x="513.46" y="781.60" font-size="18.5" textLength="19.24" lengthAdjust="spacingAndGlyphs">80</text>
<text x="503.84" y="751.90" font-size="18.5" textLength="28.86" lengthAdjust="spacingAndGlyphs">100</text>
<text x="503.84" y="724.60" font-size="18.5" textLength="28.86" lengthAdjust="spacingAndGlyphs">120</text>
<text x="503.84" y="697.10" font-size="18.5" textLength="28.86" lengthAdjust="spacingAndGlyphs">140</text>
<line x1="405.27" y1="886.90" x2="673.32" y2="886.90" stroke="#000" stroke-width="1.45"/>
<line x1="406.00" y1="886.90" x2="406.00" y2="890.90" stroke="#000" stroke-width="1.25"/>
<line x1="432.66" y1="886.90" x2="432.66" y2="890.90" stroke="#000" stroke-width="1.25"/>
<line x1="459.32" y1="886.90" x2="459.32" y2="890.90" stroke="#000" stroke-width="1.25"/>
<line x1="485.98" y1="886.90" x2="485.98" y2="890.90" stroke="#000" stroke-width="1.25"/>
<line x1="512.64" y1="886.90" x2="512.64" y2="890.90" stroke="#000" stroke-width="1.25"/>
<line x1="539.30" y1="886.90" x2="539.30" y2="890.90" stroke="#000" stroke-width="1.25"/>
<line x1="565.96" y1="886.90" x2="565.96" y2="890.90" stroke="#000" stroke-width="1.25"/>
<line x1="592.62" y1="886.90" x2="592.62" y2="890.90" stroke="#000" stroke-width="1.25"/>
<line x1="619.28" y1="886.90" x2="619.28" y2="890.90" stroke="#000" stroke-width="1.25"/>
<line x1="645.94" y1="886.90" x2="645.94" y2="890.90" stroke="#000" stroke-width="1.25"/>
<line x1="672.60" y1="886.90" x2="672.60" y2="890.90" stroke="#000" stroke-width="1.25"/>
<text x="382.62" y="910.50" font-size="15.5" textLength="25.52" lengthAdjust="spacingAndGlyphs">-0.5</text>
<text x="410.62" y="910.50" font-size="15.5" textLength="25.52" lengthAdjust="spacingAndGlyphs">-0.4</text>
<text x="440.49" y="910.50" font-size="15.5" textLength="25.52" lengthAdjust="spacingAndGlyphs">-0.3</text>
<text x="469.87" y="910.50" font-size="15.5" textLength="25.52" lengthAdjust="spacingAndGlyphs">-0.2</text>
<text x="497.37" y="910.50" font-size="15.5" textLength="25.52" lengthAdjust="spacingAndGlyphs">-0.1</text>
<text x="528.30" y="910.50" font-size="15.5" textLength="20.15" lengthAdjust="spacingAndGlyphs">0.0</text>
<text x="553.55" y="910.50" font-size="15.5" textLength="20.15" lengthAdjust="spacingAndGlyphs">0.1</text>
<text x="581.42" y="910.50" font-size="15.5" textLength="20.15" lengthAdjust="spacingAndGlyphs">0.2</text>
<text x="607.17" y="909.60" font-size="15.5" textLength="20.15" lengthAdjust="spacingAndGlyphs">0.3</text>
<text x="634.92" y="909.60" font-size="15.5" textLength="20.15" lengthAdjust="spacingAndGlyphs">0.4</text>
<text x="661.80" y="910.50" font-size="15.5" textLength="20.15" lengthAdjust="spacingAndGlyphs">0.5</text>
<text x="552.50" y="937.60" font-size="18.5" textLength="110.50" lengthAdjust="spacingAndGlyphs">1/CRNL (µM)</text>
<line x1="506.10" y1="886.90" x2="625.40" y2="706.60" stroke="#3a3a3a" stroke-width="0.9"/>
<polygon points="544.30,837.70 547.50,841.50 544.30,845.30 541.10,841.50" fill="#000" stroke="none" stroke-width="0.8"/>
<polygon points="549.80,821.50 553.00,825.30 549.80,829.10 546.60,825.30" fill="#000" stroke="none" stroke-width="0.8"/>
<line x1="560.80" y1="791.40" x2="560.80" y2="796.40" stroke="#111" stroke-width="0.8"/>
<line x1="559.00" y1="791.40" x2="562.60" y2="791.40" stroke="#111" stroke-width="0.8"/>
<line x1="559.00" y1="796.40" x2="562.60" y2="796.40" stroke="#111" stroke-width="0.8"/>
<polygon points="560.80,790.10 564.00,793.90 560.80,797.70 557.60,793.90" fill="#000" stroke="none" stroke-width="0.8"/>
<line x1="582.30" y1="747.00" x2="582.30" y2="758.60" stroke="#111" stroke-width="0.8"/>
<line x1="580.50" y1="747.00" x2="584.10" y2="747.00" stroke="#111" stroke-width="0.8"/>
<line x1="580.50" y1="758.60" x2="584.10" y2="758.60" stroke="#111" stroke-width="0.8"/>
<polygon points="582.30,749.00 585.50,752.80 582.30,756.60 579.10,752.80" fill="#000" stroke="none" stroke-width="0.8"/>
<polygon points="624.90,714.20 628.10,718.00 624.90,721.80 621.70,718.00" fill="#000" stroke="none" stroke-width="0.8"/>
<text x="0" y="0" font-size="18.5" textLength="13.30" lengthAdjust="spacingAndGlyphs" transform="translate(487.40 825.00) rotate(-90)">1/</text>
<text x="0" y="0" font-size="23.5" font-style="italic" textLength="9.48" lengthAdjust="spacingAndGlyphs" transform="translate(487.40 809.50) rotate(-90)">k</text>
<text x="0" y="0" font-size="13" textLength="17.70" lengthAdjust="spacingAndGlyphs" transform="translate(495.00 799.70) rotate(-90)">obs</text>
<text x="0" y="0" font-size="18.5" textLength="35.39" lengthAdjust="spacingAndGlyphs" transform="translate(486.80 775.60) rotate(-90)">(min</text>
<text x="0" y="0" font-size="11" textLength="6.70" lengthAdjust="spacingAndGlyphs" transform="translate(480.00 739.30) rotate(-90)">-1</text>
<text x="0" y="0" font-size="18.5" textLength="6.41" lengthAdjust="spacingAndGlyphs" transform="translate(486.80 730.10) rotate(-90)">)</text>
<text x="545.50" y="868.80" font-size="16" textLength="10.10" lengthAdjust="spacingAndGlyphs">1/</text>
<text x="555.80" y="868.80" font-size="23" font-style="italic" textLength="11.22" lengthAdjust="spacingAndGlyphs">k</text>
<text x="565.90" y="876.00" font-size="13.5" textLength="18.00" lengthAdjust="spacingAndGlyphs">obs</text>
<text x="590.10" y="868.80" font-size="16.5" textLength="8.90" lengthAdjust="spacingAndGlyphs">=</text>
<text x="604.50" y="868.80" font-size="22" textLength="15.40" lengthAdjust="spacingAndGlyphs">K</text>
<text x="620.30" y="876.40" font-size="11" textLength="3.81" lengthAdjust="spacingAndGlyphs">I</text>
<text x="624.20" y="868.80" font-size="16" textLength="4.62" lengthAdjust="spacingAndGlyphs">/</text>
<text x="628.10" y="868.80" font-size="23" font-style="italic" textLength="10.93" lengthAdjust="spacingAndGlyphs">k</text>
<text x="639.60" y="876.00" font-size="13" textLength="24.20" lengthAdjust="spacingAndGlyphs">inact</text>
<text x="665.20" y="868.80" font-size="16" textLength="14.40" lengthAdjust="spacingAndGlyphs">[I]</text>
<text x="685.10" y="868.80" font-size="16" textLength="7.90" lengthAdjust="spacingAndGlyphs">+</text>
<text x="699.80" y="868.80" font-size="16" textLength="10.80" lengthAdjust="spacingAndGlyphs">1/</text>
<text x="710.60" y="868.80" font-size="23" font-style="italic" textLength="9.48" lengthAdjust="spacingAndGlyphs">k</text>
<text x="721.40" y="876.00" font-size="13" textLength="24.90" lengthAdjust="spacingAndGlyphs">inact</text>
</svg>
</body></html>
